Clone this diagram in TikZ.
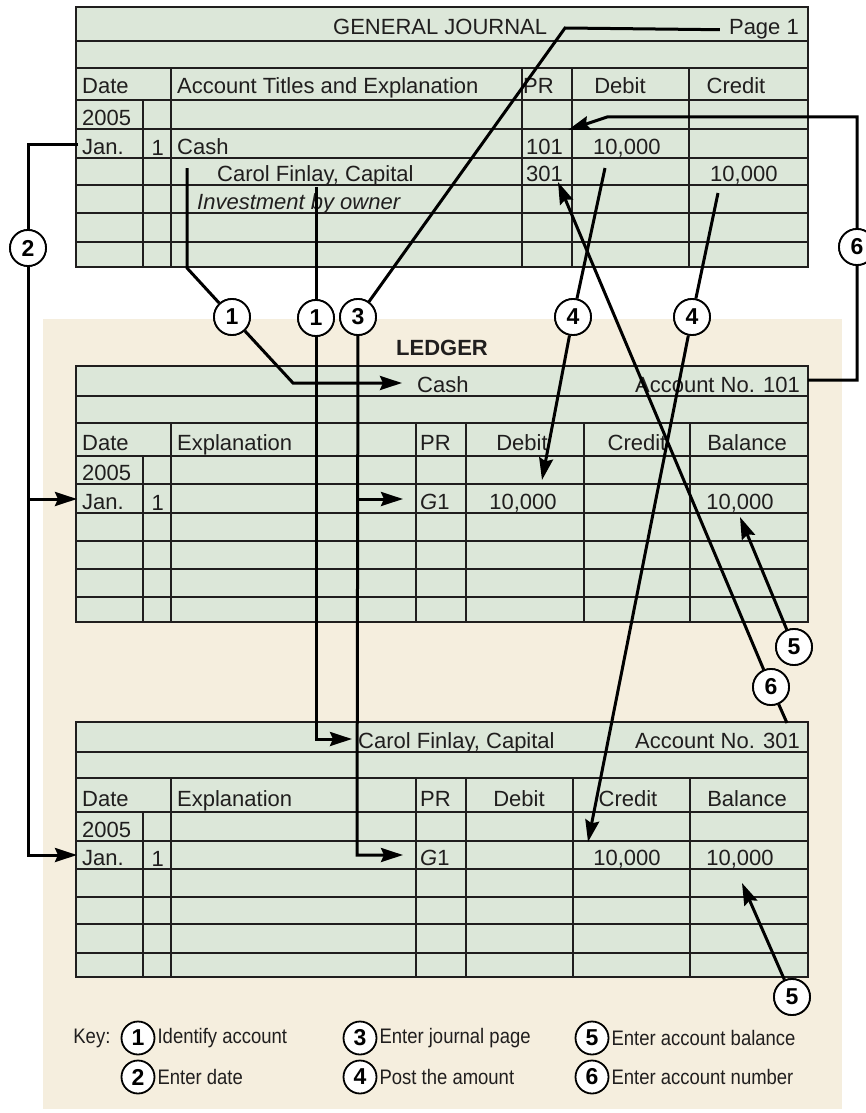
\documentclass[tikz,border=0pt]{standalone}
\usepackage{fontspec}
\setmainfont{Liberation Sans}
\newfontfamily\keyfamily[FakeStretch=0.88]{Liberation Sans}
\usetikzlibrary{arrows.meta,positioning}
\definecolor{sheet}{RGB}{220,231,217}
\definecolor{ledgerbg}{RGB}{245,238,222}
\definecolor{ink}{RGB}{32,30,30}
\newcommand\tabfont{\fontsize{22}{25}\selectfont}

\begin{document}
\begin{tikzpicture}[x=1pt, y=-1pt,
  font=\tabfont,
  rule/.style={draw=ink, line width=1.5pt},
  frame/.style={draw=ink, line width=2pt},
  cell/.style={anchor=base west, inner sep=0pt, text=ink},
  cellr/.style={anchor=base east, inner sep=0pt, text=ink},
  cellc/.style={anchor=base, inner sep=0pt, text=ink},
  num/.style={circle, draw=black, fill=white, line width=1.8pt, minimum size=36pt, inner sep=0pt, font=\fontsize{23}{23}\selectfont\bfseries},
  keynum/.style={num, minimum size=33pt},
  keytext/.style={font=\keyfamily\fontsize{21}{24}\selectfont, inner sep=0pt, text=ink},
  post/.style={draw=black, line width=3pt},
  >={Stealth[length=22pt, width=14pt, inset=3pt]}]

\useasboundingbox (0,0) rectangle (866,1113);
\fill[ledgerbg] (43,319) rectangle (842,1109);

% general journal
\fill[sheet] (76,7) rectangle (808,267);
\foreach \y in {41,68,100,129,158,185,213,242} \draw[rule] (76,\y) -- (808,\y);
\draw[rule] (143,100) -- (143,267);
\foreach \x in {171,522,572,689} \draw[rule] (\x,68) -- (\x,267);
\draw[frame] (76,7) rectangle (808,267);

\node[cell] (jtitle) at (333,35) {GENERAL JOURNAL};
\node[cellr] (jpage) at (799,35) {Page 1};
\node[cell] (jdate) at (82,94) {Date};
\node[cell] (jacct) at (177,94) {Account Titles and Explanation};
\node[cell] (jpr) at (523,94) {PR};
\node[cellc] (jdebit) at (620,94) {Debit};
\node[cellc] (jcredit) at (736,94) {Credit};
\node[cell] (jyear) at (82,125) {2005};
\node[cell] (jjan) at (82,154) {Jan.};
\node[cellr] (jday) at (164,155) {1};
\node[cell] (jcash) at (177,154) {Cash};
\node[cell] (jpr1) at (526,154) {101};
\node[cell] (jdr) at (593,154) {10,000};
\node[cell] (jcap) at (217,181) {Carol Finlay, Capital};
\node[cell] (jpr2) at (526,181) {301};
\node[cell] (jcr) at (710,181) {10,000};
\node[cell, font=\tabfont\itshape] (jexpl) at (197,209) {Investment by owner};

% ledger: cash
\node[font=\tabfont\bfseries, text=ink] (ledger) at (442,348) {LEDGER};
\fill[sheet] (76,366) rectangle (808,622);
\foreach \y in {396,423,456,484,513,541,569,597} \draw[rule] (76,\y) -- (808,\y);
\draw[rule] (143,456) -- (143,622);
\foreach \x in {171,416,466,584,690} \draw[rule] (\x,423) -- (\x,622);
\draw[frame] (76,366) rectangle (808,622);

\node[cell] (lcash) at (417,392) {Cash};
\node[cellr] (lno1) at (800,392) {Account No. 101};
\node[cell] (adate) at (82,450) {Date};
\node[cell] (aexpl) at (177,450) {Explanation};
\node[cell] (apr) at (420,450) {PR};
\node[cellc] (adebit) at (522,450) {Debit};
\node[cellc] (acredit) at (637,450) {Credit};
\node[cellc] (abal) at (747,450) {Balance};
\node[cell] (ayear) at (82,480) {2005};
\node[cell] (ajan) at (82,509) {Jan.};
\node[cellr] (aday) at (164,510) {1};
\node[cell] (aref) at (420,509) {\textit{G}1};
\node[cellc] (adr) at (523,509) {10,000};
\node[cellc] (abalv) at (740,509) {10,000};

% ledger: capital
\fill[sheet] (76,722) rectangle (808,977);
\foreach \y in {752,778,812,841,869,897,924,953} \draw[rule] (76,\y) -- (808,\y);
\draw[rule] (143,812) -- (143,977);
\foreach \x in {171,416,466,573,690} \draw[rule] (\x,778) -- (\x,977);
\draw[frame] (76,722) rectangle (808,977);

\node[cell] (lcap) at (358,748) {Carol Finlay, Capital};
\node[cellr] (lno2) at (800,748) {Account No. 301};
\node[cell] (bdate) at (82,806) {Date};
\node[cell] (bexpl) at (177,806) {Explanation};
\node[cell] (bpr) at (420,806) {PR};
\node[cellc] (bdebit) at (519,806) {Debit};
\node[cellc] (bcredit) at (628,806) {Credit};
\node[cellc] (bbal) at (747,806) {Balance};
\node[cell] (byear) at (82,837) {2005};
\node[cell] (bjan) at (82,865) {Jan.};
\node[cellr] (bday) at (164,866) {1};
\node[cell] (bref) at (420,865) {\textit{G}1};
\node[cellc] (bcr) at (627,865) {10,000};
\node[cellc] (bbalv) at (740,865) {10,000};

% numbered steps
\node[num] (c1a) at (232,317) {1};
\node[num] (c1b) at (316,318) {1};
\node[num] (c2) at (28,248) {2};
\node[num] (c3) at (358,317) {3};
\node[num] (c4a) at (573,317) {4};
\node[num] (c4b) at (692,317) {4};
\node[num] (c5a) at (794,647) {5};
\node[num] (c5b) at (792,997) {5};
\node[num] (c6a) at (857,247) {6};
\node[num] (c6b) at (771,687) {6};

% arrow ends
\coordinate (t1a) at (402,383);
\coordinate (t1b) at (352,739);
\coordinate (t2a) at (77,499);
\coordinate (t2b) at (77,855);
\coordinate (t3a) at (403,499);
\coordinate (t3b) at (403,855);
\coordinate (t4a) at (542,480);
\coordinate (t4b) at (588,842);
\coordinate (t5a) at (740,517);
\coordinate (t5b) at (742,883);
\coordinate (t6a) at (568,130);
\coordinate (t6b) at (558,182);

\draw[post] (187,168) -- (187,268) -- (c1a);
\draw[post, ->] (c1a) -- (293,383) -- (t1a);
\draw[post, ->] (316,187) -- (c1b) -- (316,739) -- (t1b);
\draw[post, ->] (78,144) -- (28,144) -- (c2) -- (28,855) -- (t2b);
\draw[post, ->] (28,499) -- (t2a);
\draw[post] ([xshift=-9pt]jpage.west) -- (565,28) -- (c3);
\draw[post, ->] (c3) -- (357,855) -- (t3b);
\draw[post, ->] (357,499) -- (t3a);
\draw[post, ->] (605,168) -- (c4a) -- (t4a);
\draw[post, ->] (718,193) -- (c4b) -- (t4b);
\draw[post, ->] (c5a) -- (t5a);
\draw[post, ->] (c5b) -- (t5b);
\draw[post, ->] (808,380) -- (857,380) -- (c6a) -- (857,117) -- (607,117) -- (t6a);
\draw[post, ->] (787,723) -- (c6b) -- (t6b);

% circles again on top of the lines
\foreach \n/\t in {c1a/1,c1b/1,c2/2,c3/3,c4a/4,c4b/4,c5a/5,c5b/5,c6a/6,c6b/6}
  \node[num] at (\n) {\t};

% key
\node[keynum] (k1) at (138,1038) {1};
\node[keytext, anchor=east, left=10pt of k1] (key) {Key:};
\node[keytext, anchor=west, right=2pt of k1] (k1t) {Identify account};
\node[keynum] (k2) at (138,1077) {2};
\node[keytext, anchor=west, right=2pt of k2] (k2t) {Enter date};
\node[keynum] (k3) at (360,1038) {3};
\node[keytext, anchor=west, right=2pt of k3] (k3t) {Enter journal page};
\node[keynum] (k4) at (360,1077) {4};
\node[keytext, anchor=west, right=2pt of k4] (k4t) {Post the amount};
\node[keynum] (k5) at (592,1038) {5};
\node[keytext, anchor=west, right=2pt of k5] (k5t) {Enter account balance};
\node[keynum] (k6) at (592,1077) {6};
\node[keytext, anchor=west, right=2pt of k6] (k6t) {Enter account number};
\end{tikzpicture}
\end{document}
